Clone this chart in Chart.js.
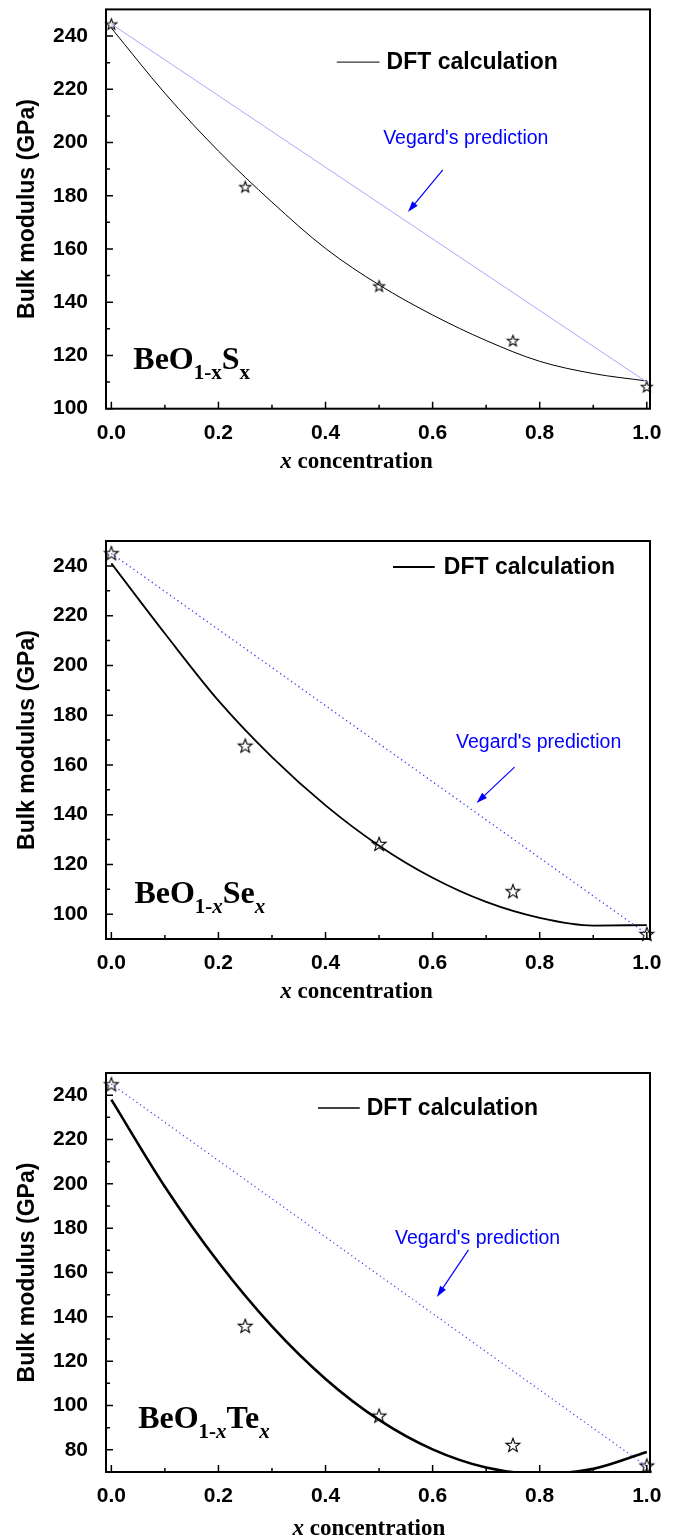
<!DOCTYPE html>
<html>
<head>
<meta charset="utf-8">
<script src="https://cdn.jsdelivr.net/npm/chart.js@4.4.1/dist/chart.umd.min.js"></script>
<style>
  body { margin: 0; background: #fff; }
  .panel { position: absolute; left: 0; width: 676px; }
  canvas { display: block; }
</style>
</head>
<body>
<div class="panel" style="top:0px"><canvas id="chartS" width="676" height="500"></canvas></div>
<div class="panel" style="top:500px"><canvas id="chartSe" width="676" height="520"></canvas></div>
<div class="panel" style="top:1020px"><canvas id="chartTe" width="676" height="520"></canvas></div>
<script>
// concentrations of the computed points
const xConc = [0, 0.25, 0.5, 0.75, 1.0];
// bulk modulus (GPa) of the computed points (stars)
const bulkS  = [244.5, 183.4, 146.1, 125.6, 108.3];
const bulkSe = [245.1, 167.7, 128.2, 109.2, 92.0];
const bulkTe = [244.9, 135.9, 95.4, 82.2, 72.9];

// DFT fitted curve
const xFit  = [0, 0.1, 0.2, 0.3, 0.4, 0.5, 0.6, 0.7, 0.8, 0.9, 1.0];
const fitS  = [243.0, 218.5, 196.8, 177.6, 160.2, 146.5, 135.2, 125.6, 117.8, 113.2, 110.4];
const fitSe = [241.0, 212.8, 185.8, 163.1, 143.7, 127.5, 114.6, 104.9, 98.5, 95.4, 95.6];
const fitTe = [238.0, 198.7, 164.6, 135.7, 112.0, 93.5, 80.2, 72.0, 69.1, 71.4, 79.0];

// Vegard's law (straight line between end members)
const xVeg  = [0, 1.0];
const vegS  = [244.5, 110.0];
const vegSe = [245.0, 92.0];
const vegTe = [245.0, 72.5];

// tick values
const xMajor = [0, 0.2, 0.4, 0.6, 0.8, 1.0];
const xMinor = [0.1, 0.3, 0.5, 0.7, 0.9];
const yTicksS  = [100, 120, 140, 160, 180, 200, 220, 240];
const yMinorS  = [110, 130, 150, 170, 190, 210, 230];
const yTicksSe = [100, 120, 140, 160, 180, 200, 220, 240];
const yMinorSe = [110, 130, 150, 170, 190, 210, 230];
const yTicksTe = [80, 100, 120, 140, 160, 180, 200, 220, 240];
const yMinorTe = [90, 110, 130, 150, 170, 190, 210, 230];

const SANS = '"Liberation Sans", Arial, sans-serif';
const SERIF = '"Liberation Serif", "Times New Roman", serif';

// hollow five point star used as marker
function makeStar(R) {
  const c = document.createElement('canvas');
  const s = Math.ceil(2 * R + 3);
  c.width = s; c.height = s;
  const g = c.getContext('2d');
  const cx = s / 2, cy = s / 2 + 0.6;
  g.beginPath();
  for (let i = 0; i < 10; i++) {
    const r = i % 2 ? R * 0.42 : R;
    const a = -Math.PI / 2 + i * Math.PI / 5;
    const px = cx + r * Math.cos(a), py = cy + r * Math.sin(a);
    if (i === 0) g.moveTo(px, py); else g.lineTo(px, py);
  }
  g.closePath();
  g.fillStyle = '#fff';
  g.fill();
  g.strokeStyle = '#000';
  g.lineWidth = 1.1;
  g.stroke();
  return c;
}

function drawRuns(ctx, runs, x, y, align) {
  let w = 0;
  runs.forEach(r => { ctx.font = r[1]; w += ctx.measureText(r[0]).width; });
  let cx = align === 'center' ? x - w / 2 : x;
  ctx.textAlign = 'left';
  ctx.textBaseline = 'alphabetic';
  runs.forEach(r => {
    ctx.font = r[1];
    ctx.fillText(r[0], cx, y + (r[2] || 0));
    cx += ctx.measureText(r[0]).width;
  });
}

// frame, inward ticks, titles and annotations
const decorPlugin = {
  id: 'decor',
  afterDraw(chart, args, o) {
    const { ctx, chartArea: a } = chart;
    const xs = chart.scales.x, ys = chart.scales.y;
    ctx.save();
    ctx.strokeStyle = '#000';
    ctx.lineWidth = 2;
    ctx.strokeRect(a.left, a.top, a.right - a.left, a.bottom - a.top);

    ctx.lineWidth = 1.5;
    ctx.beginPath();
    xMajor.forEach(v => { const p = xs.getPixelForValue(v); ctx.moveTo(p, a.bottom); ctx.lineTo(p, a.bottom - 7); });
    xMinor.forEach(v => { const p = xs.getPixelForValue(v); ctx.moveTo(p, a.bottom); ctx.lineTo(p, a.bottom - 4); });
    o.yMajor.forEach(v => { const p = ys.getPixelForValue(v); ctx.moveTo(a.left, p); ctx.lineTo(a.left + 7, p); });
    o.yMinor.forEach(v => { const p = ys.getPixelForValue(v); ctx.moveTo(a.left, p); ctx.lineTo(a.left + 4, p); });
    ctx.stroke();

    ctx.fillStyle = '#000';
    // y title
    ctx.save();
    ctx.translate(28, (a.top + a.bottom) / 2);
    ctx.rotate(-Math.PI / 2);
    ctx.font = 'bold 23px ' + SANS;
    ctx.textAlign = 'center';
    ctx.textBaseline = 'middle';
    ctx.fillText('Bulk modulus (GPa)', 0, 0);
    ctx.restore();

    // x title
    drawRuns(ctx, [
      ['x', 'italic bold 23px ' + SERIF],
      [' concentration', 'bold 23px ' + SERIF]
    ], xs.getPixelForValue(o.xTitleAt), a.bottom + o.xTitleDy, 'center');

    // legend entry
    const ly = ys.getPixelForValue(o.legend.y);
    ctx.lineWidth = o.legend.width;
    ctx.beginPath();
    ctx.moveTo(xs.getPixelForValue(o.legend.x1), ly);
    ctx.lineTo(xs.getPixelForValue(o.legend.x2), ly);
    ctx.stroke();
    ctx.font = 'bold 23px ' + SANS;
    ctx.textAlign = 'left';
    ctx.textBaseline = 'middle';
    ctx.fillText('DFT calculation', xs.getPixelForValue(o.legend.tx), ly + 1);

    // Vegard label and arrow
    ctx.fillStyle = '#0000ff';
    ctx.strokeStyle = '#0000ff';
    ctx.font = '19.5px ' + SANS;
    ctx.textAlign = 'center';
    ctx.fillText("Vegard's prediction", xs.getPixelForValue(o.veg.tx), ys.getPixelForValue(o.veg.ty));
    const x1 = xs.getPixelForValue(o.veg.ax1), y1 = ys.getPixelForValue(o.veg.ay1);
    const x2 = xs.getPixelForValue(o.veg.ax2), y2 = ys.getPixelForValue(o.veg.ay2);
    const ang = Math.atan2(y2 - y1, x2 - x1);
    ctx.lineWidth = 1.2;
    ctx.beginPath();
    ctx.moveTo(x1, y1);
    ctx.lineTo(x2 - 6 * Math.cos(ang), y2 - 6 * Math.sin(ang));
    ctx.stroke();
    ctx.beginPath();
    ctx.moveTo(x2, y2);
    ctx.lineTo(x2 - 11 * Math.cos(ang) + 3.5 * Math.sin(ang), y2 - 11 * Math.sin(ang) - 3.5 * Math.cos(ang));
    ctx.lineTo(x2 - 11 * Math.cos(ang) - 3.5 * Math.sin(ang), y2 - 11 * Math.sin(ang) + 3.5 * Math.cos(ang));
    ctx.closePath();
    ctx.fill();

    // compound name
    ctx.fillStyle = '#000';
    drawRuns(ctx, o.name, xs.getPixelForValue(o.nameAt[0]), ys.getPixelForValue(o.nameAt[1]), 'left');
    ctx.restore();
  }
};

const MAIN = 'bold 32px ' + SERIF;
const SUB = 'bold 21px ' + SERIF;
const SUBI = 'italic bold 21px ' + SERIF;

function buildChart(id, c) {
  const pts = (xa, ya) => xa.map((v, i) => ({ x: v, y: ya[i] }));
  return new Chart(document.getElementById(id), {
    type: 'line',
    data: {
      datasets: [
        {
          label: "Vegard's prediction",
          data: pts(xVeg, c.veg),
          borderColor: c.vegColor,
          borderWidth: c.vegWidth,
          borderDash: c.vegDash,
          pointRadius: 0,
          fill: false
        },
        {
          label: 'DFT calculation',
          data: pts(xFit, c.fit),
          borderColor: '#000',
          borderWidth: c.fitWidth,
          cubicInterpolationMode: 'monotone',
          pointRadius: 0,
          fill: false
        },
        {
          label: 'computed',
          data: pts(xConc, c.stars),
          showLine: false,
          pointStyle: makeStar(c.starR),
          pointRadius: 5,
          clip: false
        }
      ]
    },
    options: {
      responsive: false,
      animation: false,
      events: [],
      layout: { padding: { top: c.padTop, right: 26, left: 0, bottom: 0 } },
      plugins: {
        legend: { display: false },
        tooltip: { enabled: false },
        decor: c.decor
      },
      scales: {
        x: {
          type: 'linear',
          min: -0.01,
          max: 1.006,
          grid: { display: false, drawTicks: false },
          border: { display: false },
          afterBuildTicks: s => { s.ticks = xMajor.map(v => ({ value: v })); },
          afterFit: s => { s.height = c.xAxisH; s.paddingLeft = 0; s.paddingRight = 0; },
          ticks: {
            autoSkip: false,
            maxRotation: 0,
            padding: 12,
            color: '#000',
            font: { family: SANS, size: 21, weight: 'bold' },
            callback: v => v.toFixed(1)
          }
        },
        y: {
          min: c.yMin,
          max: 250,
          grid: { display: false, drawTicks: false },
          border: { display: false },
          afterBuildTicks: s => { s.ticks = c.yTicks.map(v => ({ value: v })); },
          afterFit: s => { s.width = 106; s.paddingTop = 0; s.paddingBottom = 0; },
          ticks: {
            autoSkip: false,
            padding: 18,
            color: '#000',
            font: { family: SANS, size: 21, weight: 'bold' },
            callback: v => String(v)
          }
        }
      }
    },
    plugins: [decorPlugin]
  });
}

// BeO(1-x)S(x)
buildChart('chartS', {
  stars: bulkS, fit: fitS, veg: vegS,
  vegColor: '#a8a8ff', vegWidth: 1, vegDash: [],
  fitWidth: 1, starR: 5.8, yMin: 100, yTicks: yTicksS,
  padTop: 9.4, xAxisH: 91.3,
  decor: {
    yMajor: yTicksS, yMinor: yMinorS,
    xTitleAt: 0.458, xTitleDy: 59,
    legend: { x1: 0.421, x2: 0.501, tx: 0.514, y: 230.2, width: 1 },
    veg: { tx: 0.662, ty: 201.3, ax1: 0.619, ay1: 189.7, ax2: 0.554, ay2: 173.9 },
    name: [['BeO', MAIN], ['1-x', SUB, 10], ['S', MAIN], ['x', SUB, 10]],
    nameAt: [0.041, 114.9]
  }
});

// BeO(1-x)Se(x)
buildChart('chartSe', {
  stars: bulkSe, fit: fitSe, veg: vegSe,
  vegColor: '#3a3aff', vegWidth: 1.3, vegDash: [1.3, 3.2],
  fitWidth: 1.8, starR: 7.3, yMin: 90, yTicks: yTicksSe,
  padTop: 41, xAxisH: 81,
  decor: {
    yMajor: yTicksSe, yMinor: yMinorSe,
    xTitleAt: 0.458, xTitleDy: 59,
    legend: { x1: 0.526, x2: 0.604, tx: 0.621, y: 239.5, width: 2 },
    veg: { tx: 0.798, ty: 168.8, ax1: 0.753, ay1: 159.1, ax2: 0.682, ay2: 144.7 },
    name: [['BeO', MAIN], ['1-', SUB, 10], ['x', SUBI, 10], ['Se', MAIN], ['x', SUBI, 10]],
    nameAt: [0.043, 104.5]
  }
});

// BeO(1-x)Te(x)
buildChart('chartTe', {
  stars: bulkTe, fit: fitTe, veg: vegTe,
  vegColor: '#3a3aff', vegWidth: 1.2, vegDash: [1.2, 3.2],
  fitWidth: 2.6, starR: 7.3, yMin: 70, yTicks: yTicksTe,
  padTop: 53, xAxisH: 68,
  decor: {
    yMajor: yTicksTe, yMinor: yMinorTe,
    xTitleAt: 0.481, xTitleDy: 63,
    legend: { x1: 0.386, x2: 0.464, tx: 0.477, y: 234.2, width: 1.5 },
    veg: { tx: 0.684, ty: 175.1, ax1: 0.667, ay1: 170.2, ax2: 0.608, ay2: 149.0 },
    name: [['BeO', MAIN], ['1-', SUB, 10], ['x', SUBI, 10], ['Te', MAIN], ['x', SUBI, 10]],
    nameAt: [0.05, 89.9]
  }
});
</script>
</body>
</html>
